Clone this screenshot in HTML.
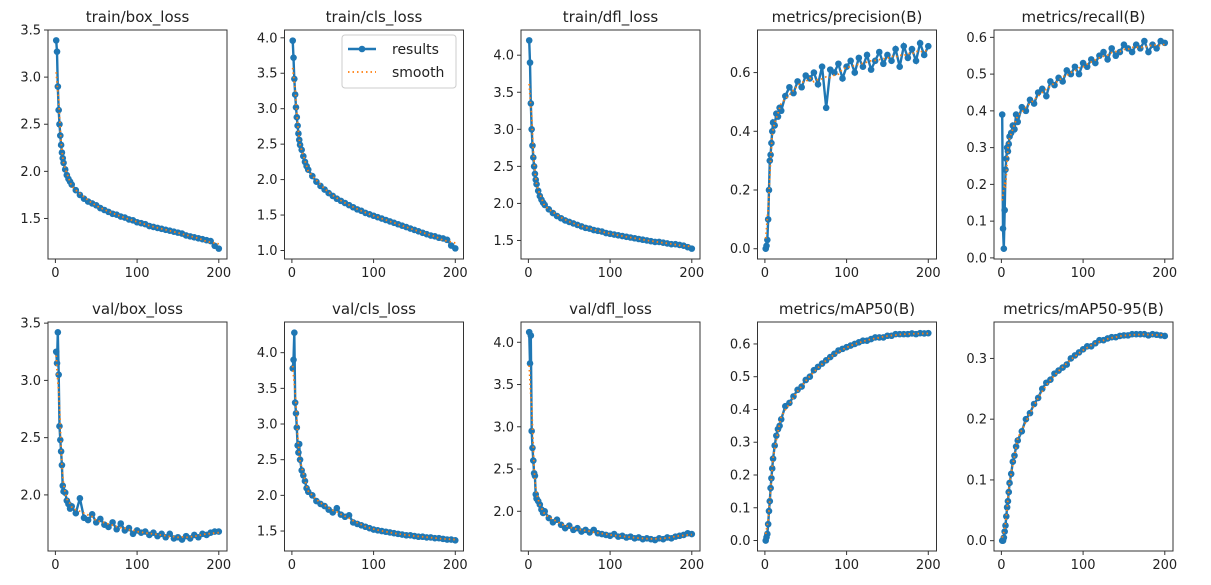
<!DOCTYPE html>
<html><head><meta charset="utf-8"><style>
body{margin:0;background:#fff;}
svg{display:block;font-family:"DejaVu Sans","Liberation Sans",sans-serif;}
</style></head><body>
<svg id="chart" width="1211" height="585" viewBox="0 0 1211 585"></svg>
<script>
const epochs = [1,2,3,4,5,6,7,8,9,10,12,14,16,18,20,25,30,35,40,45,50,55,60,65,70,75,80,85,90,95,100,105,110,115,120,125,130,135,140,145,150,155,160,165,170,175,180,185,190,195,200];
const titles = ["train/box_loss","train/cls_loss","train/dfl_loss","metrics/precision(B)","metrics/recall(B)","val/box_loss","val/cls_loss","val/dfl_loss","metrics/mAP50(B)","metrics/mAP50-95(B)"];
const trainBox = [3.39,3.27,2.90,2.65,2.50,2.38,2.28,2.20,2.14,2.09,2.02,1.96,1.92,1.89,1.86,1.80,1.75,1.71,1.68,1.66,1.64,1.61,1.59,1.57,1.55,1.54,1.52,1.51,1.49,1.48,1.46,1.45,1.44,1.42,1.41,1.40,1.39,1.38,1.37,1.36,1.35,1.34,1.32,1.31,1.30,1.29,1.28,1.27,1.26,1.21,1.18];
const trainCls = [3.96,3.72,3.42,3.20,3.02,2.88,2.76,2.65,2.56,2.49,2.42,2.33,2.25,2.19,2.14,2.05,1.97,1.91,1.86,1.81,1.77,1.73,1.70,1.67,1.64,1.61,1.58,1.56,1.53,1.51,1.49,1.47,1.45,1.43,1.41,1.39,1.37,1.35,1.33,1.31,1.29,1.27,1.25,1.23,1.21,1.20,1.18,1.17,1.15,1.07,1.03];
const trainDfl = [4.20,3.90,3.35,3.00,2.78,2.62,2.50,2.40,2.32,2.26,2.17,2.10,2.05,2.01,1.98,1.92,1.87,1.83,1.80,1.77,1.75,1.73,1.71,1.69,1.67,1.66,1.64,1.63,1.62,1.60,1.59,1.58,1.57,1.56,1.55,1.54,1.53,1.52,1.51,1.50,1.49,1.48,1.48,1.47,1.46,1.45,1.45,1.44,1.43,1.41,1.39];
const precision = [0.00,0.01,0.03,0.10,0.20,0.30,0.32,0.36,0.40,0.43,0.42,0.46,0.45,0.48,0.47,0.52,0.55,0.53,0.57,0.55,0.59,0.58,0.60,0.56,0.62,0.48,0.61,0.60,0.63,0.58,0.62,0.64,0.60,0.65,0.62,0.66,0.61,0.64,0.67,0.63,0.66,0.64,0.68,0.62,0.69,0.65,0.68,0.64,0.70,0.66,0.69];
const recall = [0.39,0.08,0.025,0.13,0.24,0.27,0.30,0.29,0.31,0.33,0.34,0.36,0.35,0.39,0.37,0.41,0.40,0.43,0.42,0.45,0.46,0.44,0.48,0.47,0.49,0.48,0.51,0.50,0.52,0.50,0.53,0.52,0.54,0.53,0.55,0.56,0.54,0.57,0.55,0.56,0.58,0.57,0.56,0.58,0.57,0.59,0.56,0.58,0.57,0.59,0.585];
const valBox = [3.25,3.15,3.42,3.05,2.60,2.48,2.38,2.26,2.08,2.03,2.02,1.95,1.92,1.88,1.90,1.84,1.97,1.80,1.78,1.83,1.76,1.79,1.74,1.72,1.76,1.70,1.75,1.69,1.71,1.66,1.69,1.67,1.68,1.65,1.67,1.64,1.66,1.63,1.66,1.62,1.63,1.61,1.64,1.62,1.65,1.63,1.66,1.65,1.67,1.68,1.68];
const valCls = [3.78,3.90,4.28,3.30,3.15,2.95,2.70,2.60,2.72,2.50,2.35,2.28,2.20,2.10,2.05,2.00,1.92,1.88,1.85,1.80,1.76,1.82,1.73,1.70,1.72,1.62,1.60,1.58,1.56,1.54,1.52,1.51,1.50,1.49,1.48,1.47,1.46,1.45,1.44,1.44,1.43,1.42,1.42,1.41,1.41,1.40,1.40,1.39,1.38,1.38,1.37];
const valDfl = [4.12,3.75,4.08,2.95,2.75,2.60,2.45,2.42,2.20,2.15,2.12,2.08,2.02,1.98,2.00,1.92,1.87,1.90,1.84,1.80,1.83,1.78,1.80,1.76,1.78,1.75,1.78,1.74,1.73,1.72,1.71,1.73,1.70,1.71,1.69,1.70,1.68,1.69,1.67,1.68,1.67,1.66,1.68,1.67,1.69,1.68,1.70,1.71,1.72,1.74,1.73];
const map50 = [0.00,0.01,0.02,0.05,0.09,0.12,0.16,0.19,0.22,0.25,0.29,0.32,0.34,0.35,0.37,0.41,0.42,0.44,0.46,0.47,0.49,0.50,0.52,0.53,0.54,0.55,0.56,0.57,0.58,0.585,0.59,0.595,0.60,0.605,0.61,0.61,0.615,0.62,0.62,0.62,0.625,0.625,0.63,0.63,0.63,0.63,0.632,0.63,0.633,0.632,0.633];
const map5095 = [0.0,0.0,0.005,0.015,0.025,0.04,0.055,0.065,0.08,0.095,0.11,0.13,0.14,0.155,0.165,0.18,0.20,0.21,0.225,0.235,0.25,0.26,0.265,0.275,0.28,0.285,0.29,0.30,0.305,0.31,0.315,0.32,0.32,0.325,0.33,0.33,0.333,0.335,0.335,0.337,0.338,0.338,0.34,0.34,0.34,0.34,0.338,0.34,0.339,0.338,0.337];
const xTicks = [0,100,200];
const yTicks1 = [1.5,2.0,2.5,3.0,3.5];
const yTicks2 = [1.0,1.5,2.0,2.5,3.0,3.5,4.0];
const yTicks3 = [1.5,2.0,2.5,3.0,3.5,4.0];
const yTicks4 = [0.0,0.2,0.4,0.6];
const yTicks5 = [0.0,0.1,0.2,0.3,0.4,0.5,0.6];
const yTicks6 = [2.0,2.5,3.0,3.5];
const yTicks7 = [1.5,2.0,2.5,3.0,3.5,4.0];
const yTicks8 = [2.0,2.5,3.0,3.5,4.0];
const yTicks9 = [0.0,0.1,0.2,0.3,0.4,0.5,0.6];
const yTicks10 = [0.0,0.1,0.2,0.3];

const series = [trainBox,trainCls,trainDfl,precision,recall,valBox,valCls,valDfl,map50,map5095];
const yTicksAll = [yTicks1,yTicks2,yTicks3,yTicks4,yTicks5,yTicks6,yTicks7,yTicks8,yTicks9,yTicks10];
const ylims = [[1.07,3.5],[0.88,4.11],[1.25,4.34],[-0.035,0.745],[-0.003,0.62],[1.51,3.51],[1.22,4.43],[1.53,4.24],[-0.032,0.667],[-0.017,0.36]];
const NS = "http://www.w3.org/2000/svg";
const svg = document.getElementById("chart");
function mk(tag, attrs, parent){const e=document.createElementNS(NS,tag);for(const k in attrs)e.setAttribute(k,attrs[k]);(parent||svg).appendChild(e);return e;}
function smooth(v){const out=[];const w=3;for(let i=0;i<v.length;i++){let s=0,n=0;for(let j=Math.max(0,i-w);j<=Math.min(v.length-1,i+w);j++){s+=v[j];n++;}out.push(s/n);}return out;}
const lefts=[48,284.5,521,757.5,994], W=179, tops=[30,322], H=229;
series.forEach((data,p)=>{
  const col=p%5,row=Math.floor(p/5);
  const x0=lefts[col],y0=tops[row];
  const [ymin,ymax]=ylims[p];
  const xs=v=>x0+(v+9.05)/(219.1)*W;
  const ys=v=>y0+H-(v-ymin)/(ymax-ymin)*H;
  const g=mk("g",{});
  
  
  const t=mk("text",{x:x0+W/2,y:y0-8,"text-anchor":"middle","font-size":"15",fill:"#222"},g);
  t.textContent=titles[p];
  
  
  const pts=epochs.map((e,i)=>xs(e).toFixed(1)+","+ys(data[i]).toFixed(1)).join(" ");
  const line=mk("polyline",{points:pts,fill:"none",stroke:"#1f77b4","stroke-width":"2.4"},g);
  
  
  epochs.forEach((e,i)=>{
    const c=mk("circle",{cx:xs(e),cy:ys(data[i]),r:3.3,fill:"#1f77b4"},g);
    
    
  });
  const sm=smooth(data);
  const sp=epochs.map((e,i)=>xs(e).toFixed(1)+","+ys(sm[i]).toFixed(1)).join(" ");
  const sl=mk("polyline",{points:sp,fill:"none",stroke:"#ff7f0e","stroke-width":"1.8","stroke-dasharray":"1.5,3"},g);
  
  
  const fr=mk("rect",{x:x0,y:y0,width:W,height:H,fill:"none",stroke:"#333","stroke-width":"1"},g);
  
  
  xTicks.forEach(v=>{
    const X=xs(v);
    mk("line",{x1:X,x2:X,y1:y0+H,y2:y0+H+4,stroke:"#333"},g);
    const tl=mk("text",{x:X,y:y0+H+18,"text-anchor":"middle","font-size":"13",fill:"#222"},g);
    tl.textContent=v;
    
    
  });
  yTicksAll[p].forEach(v=>{
    const Y=ys(v);
    mk("line",{x1:x0-4,x2:x0,y1:Y,y2:Y,stroke:"#333"},g);
    const tl=mk("text",{x:x0-7,y:Y+4.5,"text-anchor":"end","font-size":"13",fill:"#222"},g);
    tl.textContent=v.toFixed(1);
    
    
  });
});
const lg=mk("g",{});


mk("rect",{x:342,y:35,width:114,height:53,rx:3,fill:"#fff",stroke:"#ccc"},lg);
mk("line",{x1:348,x2:376,y1:49,y2:49,stroke:"#1f77b4","stroke-width":"2.4"},lg);
mk("circle",{cx:362,cy:49,r:3.3,fill:"#1f77b4"},lg);
const l1=mk("text",{x:392,y:54,"font-size":"14",fill:"#222"},lg);l1.textContent="results";


mk("line",{x1:348,x2:376,y1:72,y2:72,stroke:"#ff7f0e","stroke-width":"1.8","stroke-dasharray":"1.5,3"},lg);
const l2=mk("text",{x:392,y:77,"font-size":"14",fill:"#222"},lg);l2.textContent="smooth";


</script>
</body></html>
